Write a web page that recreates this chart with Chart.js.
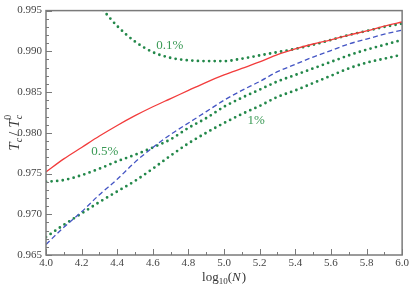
<!DOCTYPE html>
<html>
<head>
<meta charset="utf-8">
<script src="https://cdn.jsdelivr.net/npm/chart.js@4/dist/chart.umd.min.js"></script>
<style>
  html, body { margin: 0; padding: 0; background: #fff; }
  #wrap { width: 411px; height: 288px; }
</style>
</head>
<body>
<div id="wrap"><canvas id="tcChart" width="411" height="288"></canvas></div>
<script>
// log10(N) grid
const logN = [4.0, 4.1, 4.2, 4.3, 4.4, 4.5, 4.6, 4.7, 4.8, 4.9, 5.0,
              5.1, 5.2, 5.3, 5.4, 5.5, 5.6, 5.7, 5.8, 5.9, 6.0];

const redSolid = [0.9752, 0.9768, 0.9782, 0.9796, 0.9809, 0.9821, 0.9832, 0.9842, 0.9852, 0.9862, 0.9871,
                  0.9879, 0.9887, 0.9896, 0.9903, 0.9909, 0.9914, 0.9920, 0.9925, 0.9931, 0.9936];
const blueDashed = [0.9663, 0.9684, 0.9703, 0.9724, 0.9743, 0.9764, 0.9782, 0.9798, 0.9812, 0.9826, 0.9840,
                    0.9852, 0.9863, 0.9875, 0.9884, 0.9893, 0.9901, 0.9909, 0.9915, 0.9921, 0.9926];
const green01 = [null, null, null, 0.9956, 0.9931, 0.9912, 0.9899, 0.9892, 0.9889, 0.9888, 0.9888,
                 0.9891, 0.9895, 0.9899, 0.9903, 0.9908, 0.9914, 0.9920, 0.9925, 0.9930, 0.9934];
const green05 = [0.9740, 0.9742, 0.9748, 0.9756, 0.9765, 0.9773, 0.9782, 0.9792, 0.9806, 0.9818, 0.9832,
                 0.9843, 0.9853, 0.9863, 0.9871, 0.9879, 0.9887, 0.9895, 0.9902, 0.9908, 0.9914];
const green1 = [0.9672, 0.9687, 0.9701, 0.9715, 0.9728, 0.9741, 0.9756, 0.9772, 0.9787, 0.9800, 0.9812,
                0.9823, 0.9833, 0.9844, 0.9852, 0.9861, 0.9870, 0.9879, 0.9886, 0.9891, 0.9896];

// curve labels (data coordinates)
const curveLabels = ['0.1%', '0.5%', '1%'];
const curveLabelX = [4.695, 4.33, 5.18];
const curveLabelY = [0.9907, 0.9777, 0.9815];

function toPoints(ys) {
    const pts = [];
    for (var i = 0; i < logN.length; i++) {
        if (ys[i] !== null) pts.push({ x: logN[i], y: ys[i] });
    }
    return pts;
}

const dotted = {
    borderColor: '#23884a',
    borderWidth: 2.8,
    borderDash: [0, 5.6],
    borderCapStyle: 'round'
};

const serif = '"Liberation Serif", "Times New Roman", serif';

function drawRich(ctx, parts, x0, y0) {
    var w = 0;
    parts.forEach(p => { ctx.font = p.f; w += ctx.measureText(p.t).width + (p.gap || 0); });
    var cx = x0 - w / 2;
    parts.forEach(p => {
        ctx.font = p.f;
        ctx.fillText(p.t, cx, y0 + (p.dy || 0));
        cx += ctx.measureText(p.t).width + (p.gap || 0);
    });
}

// inward ticks, frame, curve labels and axis titles
const decorations = {
    id: 'decorations',
    afterDraw(chart) {
        const ctx = chart.ctx;
        const a = chart.chartArea;
        const xs = chart.scales.x;
        const ys = chart.scales.y;
        ctx.save();
        ctx.strokeStyle = '#7a7a7a';
        ctx.lineWidth = 1;
        ctx.beginPath();
        for (var i = 0; i <= 20; i++) {
            const px = Math.round(xs.getPixelForValue(4 + i * 0.1)) + 0.5;
            const len = i % 2 === 0 ? 6 : 3;
            ctx.moveTo(px, a.bottom);
            ctx.lineTo(px, a.bottom - len);
        }
        for (var j = 0; j <= 30; j++) {
            const py = Math.round(ys.getPixelForValue(0.965 + j * 0.001)) + 0.5;
            const len = j % 5 === 0 ? 6 : 3;
            ctx.moveTo(a.left, py);
            ctx.lineTo(a.left + len, py);
        }
        ctx.stroke();
        ctx.lineWidth = 1.5;
        ctx.strokeRect(a.left, a.top, a.right - a.left, a.bottom - a.top);

        // curve labels
        ctx.fillStyle = '#3a9a55';
        ctx.font = '13px ' + serif;
        ctx.textAlign = 'center';
        ctx.textBaseline = 'middle';
        for (var k = 0; k < curveLabels.length; k++) {
            ctx.fillText(curveLabels[k], xs.getPixelForValue(curveLabelX[k]), ys.getPixelForValue(curveLabelY[k]));
        }

        // x title: log10(N)
        ctx.fillStyle = '#333';
        ctx.textAlign = 'left';
        ctx.textBaseline = 'alphabetic';
        drawRich(ctx, [
            { t: 'log', f: '13px ' + serif },
            { t: '10', f: '9px ' + serif, dy: 3 },
            { t: '(', f: '13px ' + serif },
            { t: 'N', f: 'italic 13px ' + serif, gap: 1 },
            { t: ')', f: '13px ' + serif }
        ], (a.left + a.right) / 2, 281);

        // y title: Tc / Tc^0
        ctx.translate(19, (a.top + a.bottom) / 2);
        ctx.rotate(-Math.PI / 2);
        drawRich(ctx, [
            { t: 'T', f: 'italic 15px ' + serif },
            { t: 'c', f: 'italic 10px ' + serif, dy: 3, gap: 2 },
            { t: '/', f: '15px ' + serif, gap: 4 },
            { t: 'T', f: 'italic 15px ' + serif },
            { t: 'c', f: 'italic 10px ' + serif, dy: 3 }
        ], 0, 0);
        // superscript 0 above the last subscript
        ctx.font = '10px ' + serif;
        ctx.fillText('0', 13, -8);
        ctx.restore();
    }
};

new Chart(
    document.getElementById('tcChart'),
    {
        type: 'scatter',
        data: {
            datasets: [
                { data: toPoints(redSolid), borderColor: '#f23c3c', borderWidth: 1.3 },
                { data: toPoints(blueDashed), borderColor: '#4455c4', borderWidth: 1.3, borderDash: [5, 3] },
                Object.assign({ data: toPoints(green01) }, dotted),
                Object.assign({ data: toPoints(green05) }, dotted),
                Object.assign({ data: toPoints(green1) }, dotted)
            ]
        },
        options: {
            responsive: false,
            animation: false,
            showLine: true,
            elements: {
                point: { radius: 0, hoverRadius: 0 },
                line: { cubicInterpolationMode: 'monotone', fill: false }
            },
            layout: { padding: { top: 4, right: 8, left: 0, bottom: 0 } },
            plugins: {
                legend: { display: false },
                tooltip: { enabled: false }
            },
            scales: {
                x: {
                    type: 'linear',
                    min: 4.0,
                    max: 6.0,
                    grid: { display: false, drawTicks: false },
                    border: { display: false },
                    ticks: {
                        stepSize: 0.2,
                        padding: 2,
                        color: '#444',
                        font: { family: serif, size: 11 },
                        callback: v => v.toFixed(1)
                    },
                    afterFit: s => { s.height = 33; }
                },
                y: {
                    min: 0.965,
                    max: 0.995,
                    grid: { display: false, drawTicks: false },
                    border: { display: false },
                    ticks: {
                        stepSize: 0.005,
                        padding: 4,
                        color: '#444',
                        font: { family: serif, size: 11 },
                        callback: v => v.toFixed(3)
                    },
                    afterFit: s => { s.width = 46; }
                }
            }
        },
        plugins: [decorations]
    });
</script>
</body>
</html>
